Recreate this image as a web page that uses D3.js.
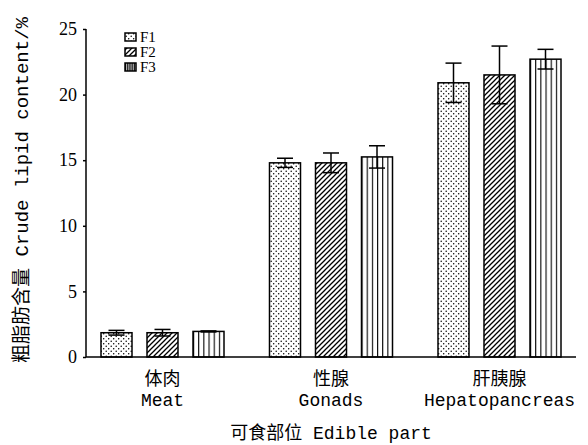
<!DOCTYPE html>
<html>
<head>
<meta charset="utf-8">
<script src="https://d3js.org/d3.v7.min.js"></script>
<style>
  body { margin: 0; background: #fff; }
  text { fill: #000; }
</style>
</head>
<body>
<script>
// categories (Chinese + English labels)
const partsCn = ["体肉", "性腺", "肝胰腺"];
const partsEn = ["Meat", "Gonads", "Hepatopancreas"];
const groups = ["F1", "F2", "F3"];

// mean lipid content (%) per group, in order of parts
const meanF1 = [1.85, 14.8, 20.9];
const meanF2 = [1.85, 14.8, 21.5];
const meanF3 = [1.95, 15.25, 22.7];
// standard deviations
const sdF1 = [0.18, 0.35, 1.5];
const sdF2 = [0.25, 0.75, 2.2];
const sdF3 = [0.04, 0.85, 0.75];

const yTicks = [0, 5, 10, 15, 20, 25];

const W = 588, H = 445;
const margin = {top: 29, right: 12, bottom: 88, left: 86};
const cjk = "Noto Sans CJK SC";
const mono = "Liberation Mono, monospace";

const svg = d3.select("body").append("svg")
  .attr("width", W).attr("height", H);

// fill patterns
const defs = svg.append("defs");
const pDots = defs.append("pattern").attr("id", "pF1")
  .attr("patternUnits", "userSpaceOnUse").attr("width", 5).attr("height", 5);
pDots.append("rect").attr("width", 5).attr("height", 5).attr("fill", "#fff");
pDots.append("circle").attr("cx", 1.2).attr("cy", 1.2).attr("r", 0.75).attr("fill", "#000");
pDots.append("circle").attr("cx", 3.7).attr("cy", 3.7).attr("r", 0.75).attr("fill", "#000");

const pHatch = defs.append("pattern").attr("id", "pF2")
  .attr("patternUnits", "userSpaceOnUse").attr("width", 5).attr("height", 5);
pHatch.append("rect").attr("width", 5).attr("height", 5).attr("fill", "#fff");
pHatch.append("path").attr("d", "M-1,6 L6,-1 M-1,1 L1,-1 M4,6 L6,4")
  .attr("stroke", "#000").attr("stroke-width", 1.3);

const pVert = defs.append("pattern").attr("id", "pF3")
  .attr("patternUnits", "objectBoundingBox").attr("width", 1 / 6).attr("height", 1);
pVert.append("rect").attr("width", 20).attr("height", 500).attr("fill", "#fff");
pVert.append("line").attr("x1", 0).attr("x2", 0).attr("y1", 0).attr("y2", 500)
  .attr("stroke", "#000").attr("stroke-width", 2.2);

const x0 = d3.scalePoint().domain(partsEn)
  .range([margin.left, W - margin.right]).padding(0.454);
const x1 = d3.scaleBand().domain(groups).range([-69, 69])
  .paddingInner(0.326).paddingOuter(0.163);
const y = d3.scaleLinear().domain([0, 25]).range([H - margin.bottom, margin.top]);

const means = {F1: meanF1, F2: meanF2, F3: meanF3};
const sds = {F1: sdF1, F2: sdF2, F3: sdF3};
const rows = [];
groups.forEach(g => partsEn.forEach((p, i) => rows.push({g, p, v: means[g][i], sd: sds[g][i]})));

// bars
svg.append("g").selectAll("rect").data(rows).join("rect")
  .attr("x", d => x0(d.p) + x1(d.g))
  .attr("y", d => y(d.v))
  .attr("width", x1.bandwidth())
  .attr("height", d => y(0) - y(d.v))
  .attr("fill", d => "url(#p" + d.g + ")")
  .attr("stroke", "#000").attr("stroke-width", 1.5);

// error bars
const eb = svg.append("g").attr("stroke", "#000").attr("stroke-width", 1.5);
rows.forEach(d => {
  const cx = x0(d.p) + x1(d.g) + x1.bandwidth() / 2;
  eb.append("line").attr("x1", cx).attr("x2", cx).attr("y1", y(d.v + d.sd)).attr("y2", y(d.v - d.sd));
  eb.append("line").attr("x1", cx - 8).attr("x2", cx + 8).attr("y1", y(d.v + d.sd)).attr("y2", y(d.v + d.sd));
  eb.append("line").attr("x1", cx - 8).attr("x2", cx + 8).attr("y1", y(d.v - d.sd)).attr("y2", y(d.v - d.sd));
});

// y axis
const yAxis = svg.append("g").attr("transform", `translate(${margin.left},0)`)
  .call(d3.axisLeft(y).tickValues(yTicks).tickSize(3).tickPadding(6).tickFormat(d3.format("d")));
yAxis.select(".domain").attr("d", `M0,${margin.top}V${y(0)}`).attr("stroke-width", 1.5);
yAxis.selectAll(".tick line").attr("stroke-width", 1.5);
yAxis.selectAll("text").attr("font-family", "Liberation Serif, serif").attr("font-size", 18);

// x axis line
svg.append("line").attr("x1", margin.left).attr("x2", W - margin.right)
  .attr("y1", y(0)).attr("y2", y(0)).attr("stroke", "#000").attr("stroke-width", 1.5);

// category labels
const lab = svg.append("g").attr("text-anchor", "middle");
partsEn.forEach((p, i) => {
  lab.append("text").attr("x", x0(p)).attr("y", 385)
    .attr("font-family", cjk).attr("font-size", 18).text(partsCn[i]);
  lab.append("text").attr("x", x0(p)).attr("y", 406)
    .attr("font-family", mono).attr("font-size", 18).text(p);
});

// axis titles (mixed CJK / Latin)
function mixed(sel, cn, en) {
  sel.append("tspan").attr("font-family", cjk).text(cn);
  sel.append("tspan").attr("font-family", mono).text(" " + en);
}
const xt = svg.append("text").attr("x", (margin.left + W - margin.right) / 2).attr("y", 439)
  .attr("text-anchor", "middle").attr("font-size", 18);
mixed(xt, "可食部位", "Edible part");

const yt = svg.append("text")
  .attr("transform", "translate(28,190) rotate(-90)")
  .attr("text-anchor", "middle").attr("font-size", 19);
mixed(yt, "粗脂肪含量", "Crude lipid content/%");

// legend
const leg = svg.append("g");
groups.forEach((g, i) => {
  const ly = 37 + i * 15;
  leg.append("rect").attr("x", 125).attr("y", ly - 4).attr("width", 11).attr("height", 8)
    .attr("fill", "url(#p" + g + ")").attr("stroke", "#000").attr("stroke-width", 1.5);
  leg.append("text").attr("x", 140).attr("y", ly + 5)
    .attr("font-family", "Liberation Serif, serif").attr("font-size", 15).text(g);
});
</script>
</body>
</html>
